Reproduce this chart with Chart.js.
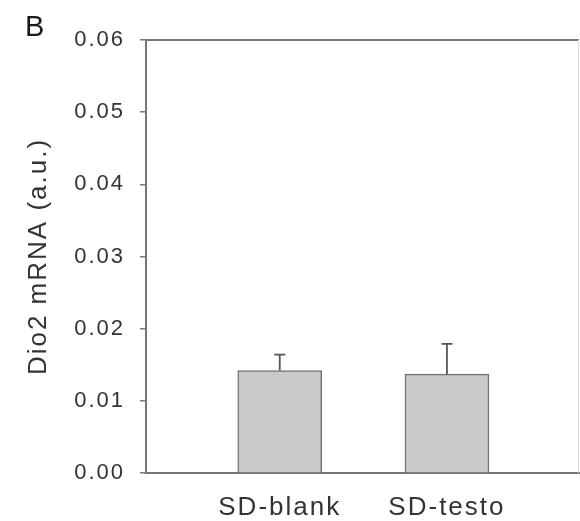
<!DOCTYPE html>
<html>
<head>
<meta charset="utf-8">
<script src="https://cdn.jsdelivr.net/npm/chart.js@4.4.1/dist/chart.umd.min.js"></script>
<style>
    html, body { margin: 0; padding: 0; background: #fff; }
    #wrap { width: 580px; height: 521px; position: relative; }
</style>
</head>
<body>
<div id="wrap"><canvas id="chart"></canvas></div>
<script>
const groups = ['SD-blank', 'SD-testo'];
const means = [0.0142, 0.0137];
const errors = [0.0022, 0.0042];
const yTicks = [0, 0.01, 0.02, 0.03, 0.04, 0.05, 0.06];

const COLORS = {
    bar: '#c9c9c9',
    barEdge: '#747474',
    axis: '#777777',
    text: '#333333',
    errorBar: '#555555',
};

const FONT = '"Liberation Sans", Arial, sans-serif';

// bars sit at x = 0, 1 on a linear axis so the gaps at both ends can be set freely
const barData = groups.map((g, i) => ({ x: i, y: means[i] }));

const errorBarPlugin = {
    id: 'errorBars',
    afterDatasetsDraw(chart) {
        const ctx = chart.ctx;
        const xs = chart.scales.x;
        const ys = chart.scales.y;
        ctx.save();
        ctx.strokeStyle = COLORS.errorBar;
        ctx.lineWidth = 1.8;
        groups.forEach((g, i) => {
            const px = xs.getPixelForValue(i);
            const y1 = ys.getPixelForValue(means[i]);
            const y2 = ys.getPixelForValue(means[i] + errors[i]);
            ctx.beginPath();
            ctx.moveTo(px, y1);
            ctx.lineTo(px, y2);
            ctx.moveTo(px - 5.5, y2);
            ctx.lineTo(px + 5.5, y2);
            ctx.stroke();
        });
        ctx.restore();
    }
};

const framePlugin = {
    id: 'frame',
    beforeDraw(chart) {
        chart.ctx.letterSpacing = '2px';
    },
    afterDraw(chart) {
        const { ctx, chartArea } = chart;
        ctx.save();
        // top border
        ctx.strokeStyle = COLORS.axis;
        ctx.lineWidth = 2;
        ctx.beginPath();
        ctx.moveTo(chartArea.left, chartArea.top);
        ctx.lineTo(chartArea.right, chartArea.top);
        ctx.stroke();
        // faint right border
        ctx.strokeStyle = '#dcdcdc';
        ctx.lineWidth = 1;
        ctx.beginPath();
        ctx.moveTo(chartArea.right - 0.5, chartArea.top);
        ctx.lineTo(chartArea.right - 0.5, chartArea.bottom);
        ctx.stroke();
        // panel letter
        ctx.letterSpacing = '0px';
        ctx.fillStyle = '#1a1a1a';
        ctx.font = '29px ' + FONT;
        ctx.textAlign = 'left';
        ctx.textBaseline = 'alphabetic';
        ctx.fillText('B', 25, 36);
        ctx.restore();
    }
};

const ctx = document.getElementById('chart').getContext('2d');
new Chart(ctx, {
    type: 'bar',
    data: {
        datasets: [{
            data: barData,
            backgroundColor: COLORS.bar,
            borderColor: COLORS.barEdge,
            borderWidth: 1.5,
            borderSkipped: 'bottom',
            barThickness: 84,
        }]
    },
    options: {
        responsive: true,
        maintainAspectRatio: false,
        animation: false,
        layout: {
            padding: { top: 40, right: 1, left: 0, bottom: 0 }
        },
        plugins: {
            legend: { display: false },
            tooltip: { enabled: false },
        },
        scales: {
            x: {
                type: 'linear',
                min: -0.8,
                max: 1.79,
                offset: false,
                bounds: 'data',
                afterBuildTicks(scale) {
                    scale.ticks = groups.map((g, i) => ({ value: i }));
                },
                afterFit(scale) {
                    scale.height = 48;
                },
                grid: { display: false, drawTicks: false },
                border: { display: true, color: COLORS.axis, width: 2 },
                ticks: {
                    color: COLORS.text,
                    font: { family: FONT, size: 26 },
                    padding: 19,
                    maxRotation: 0,
                    autoSkip: false,
                    callback: (v) => groups[v] ?? '',
                },
            },
            y: {
                min: 0,
                max: 0.06,
                afterBuildTicks(scale) {
                    scale.ticks = yTicks.map(v => ({ value: v }));
                },
                afterFit(scale) {
                    scale.width = 146;
                },
                grid: {
                    display: true,
                    drawOnChartArea: false,
                    drawTicks: true,
                    tickLength: 6,
                    color: COLORS.axis,
                    lineWidth: 1.5,
                },
                border: { display: true, color: COLORS.axis, width: 2 },
                ticks: {
                    color: COLORS.text,
                    font: { family: FONT, size: 22 },
                    padding: 15,
                    callback: (v) => v.toFixed(2),
                },
                title: {
                    display: true,
                    text: 'Dio2 mRNA (a.u.)',
                    color: COLORS.text,
                    font: { family: FONT, size: 26 },
                    padding: { top: 23, bottom: 0 },
                },
            },
        },
    },
    plugins: [errorBarPlugin, framePlugin],
});
</script>
</body>
</html>
